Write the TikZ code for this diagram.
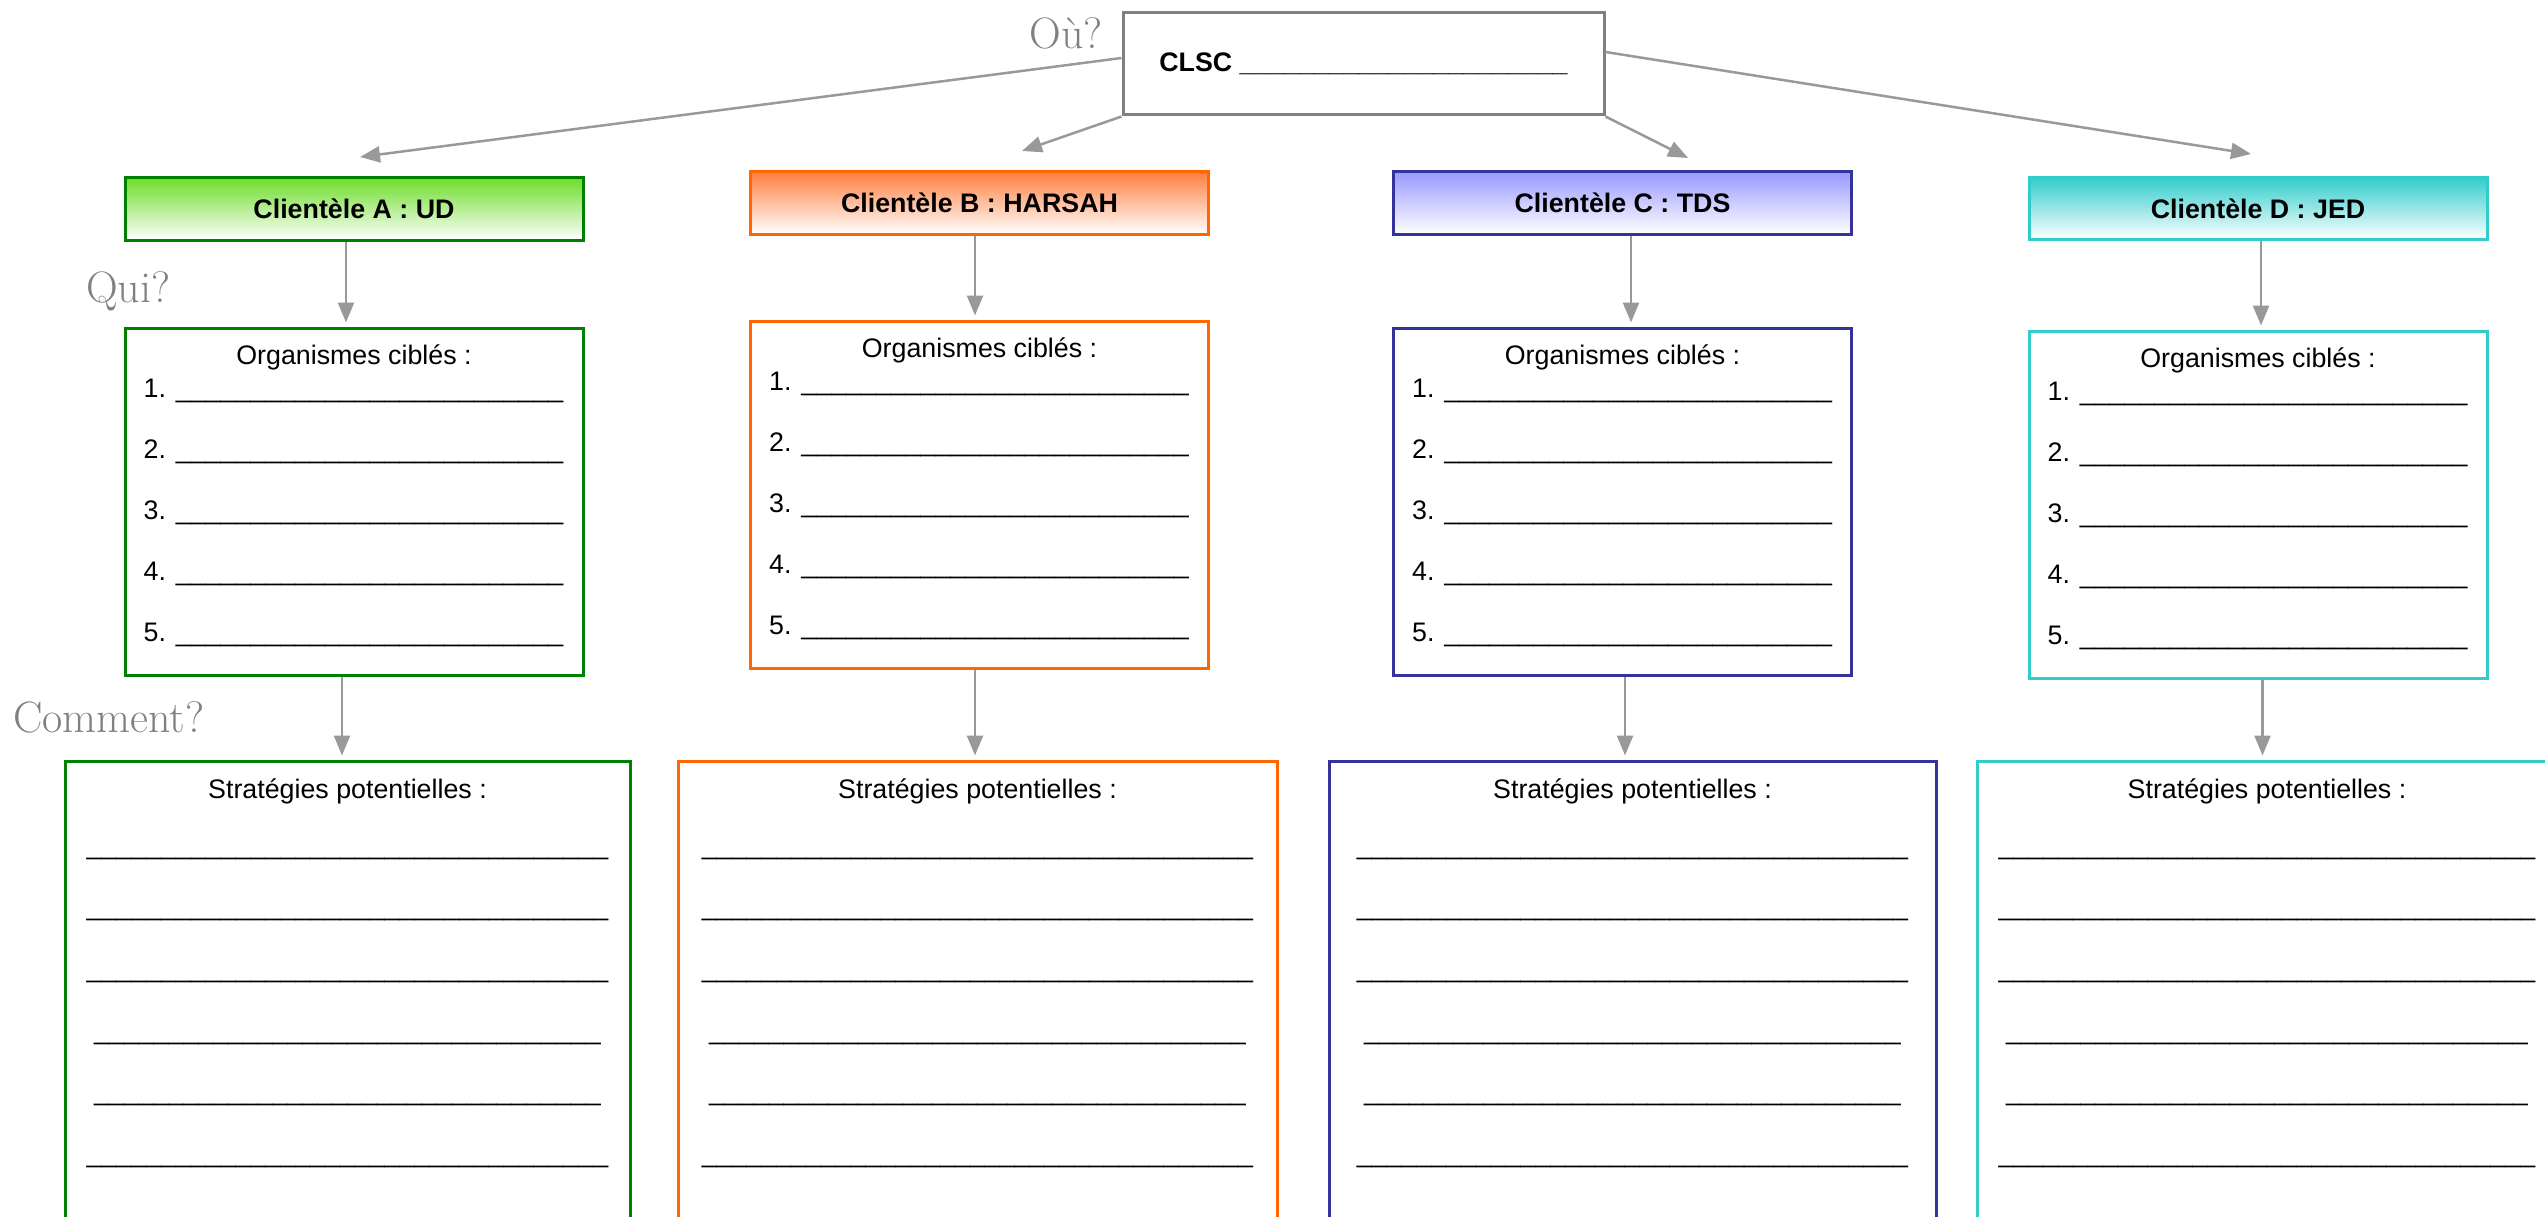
\documentclass[tikz,border=0pt]{standalone}
\usepackage{fontspec}
\newfontfamily\arialf{Liberation Sans}
\usetikzlibrary{arrows.meta}
\def\uten{\_\_\_\_\_\_\_\_\_\_}
\def\ufive{\_\_\_\_\_}
\definecolor{gA}{HTML}{008000}
\definecolor{gAtop}{HTML}{6EDD2A}
\definecolor{oB}{HTML}{FF6600}
\definecolor{oBtop}{HTML}{FF7F3F}
\definecolor{bC}{HTML}{333399}
\definecolor{bCtop}{HTML}{9999FF}
\definecolor{tD}{HTML}{33CCCC}
\definecolor{tDtop}{HTML}{33CCCC}
\definecolor{arrgray}{HTML}{999999}
\definecolor{boxgray}{HTML}{808080}
\definecolor{lblgray}{HTML}{808080}
\tikzset{
  body/.style={font=\arialf\fontsize{26.8}{32}\selectfont, inner sep=0pt},
  bodyb/.style={font=\arialf\bfseries\fontsize{26.8}{32}\selectfont, inner sep=0pt},
  deco/.style={font=\fontsize{44}{52}\selectfont, text=lblgray, inner sep=0pt},
  boxst/.style={draw, line width=3pt, rectangle, inner sep=0pt},
  arr/.style={draw=arrgray, line width=2.5pt, -{Triangle[length=20pt,width=16pt]}},
}
\begin{document}
\begin{tikzpicture}[x=1pt,y=-1pt]
\useasboundingbox (0,0) rectangle (2545,1217);

% top box
\node[boxst, draw=boxgray, fill=white, minimum width=481pt, minimum height=102pt, bodyb] (clsc) at (1363.5,64) {CLSC \uten\uten\_\_};

% headers
\foreach \n/\nm/\cx/\cy/\cc/\ct in {A/UD/354/209/gA/gAtop, B/HARSAH/979.5/203/oB/oBtop, C/TDS/1622.5/203/bC/bCtop, D/JED/2258/208.5/tD/tDtop}
  \node[boxst, bodyb, draw=\cc, top color=\ct, bottom color=white, minimum width=458pt, minimum height=62pt] (h\n) at (\cx,\cy) {Clientèle \n{} : \nm};

% organisms boxes
\foreach \n/\cx/\ty/\cc in {A/354/328/gA, B/979.5/321/oB, C/1622.5/328/bC, D/2258/331/tD} {
  \node[boxst, fill=white, draw=\cc, minimum width=458pt, minimum height=347pt] (org\n) at (\cx,\ty+173.5) {};
  \node[body, anchor=base] (orgt\n) at (\cx,\ty+36.5) {Organismes ciblés :};
  \foreach \k in {1,...,5}
    \node[body, anchor=base west] (org\n\k) at (\cx-210.5,\ty+8.5+61*\k) {\k. \uten\uten\ufive\_};
}

% strategies boxes
\foreach \n/\cx/\w/\cc/\lng/\sht in {A/347.5/565/gA/{\uten\uten\uten\ufive}/{\uten\uten\uten\_\_\_\_},
    B/977.5/599/oB/{\uten\uten\uten\ufive\_\_}/{\uten\uten\uten\ufive\_},
    C/1632.5/607/bC/{\uten\uten\uten\ufive\_\_}/{\uten\uten\uten\ufive\_},
    D/2267/580/tD/{\uten\uten\uten\ufive\_}/{\uten\uten\uten\ufive}} {
  \node[boxst, fill=white, draw=\cc, minimum width=\w pt, minimum height=489pt] (st\n) at (\cx,1005.5) {};
  \node[body, anchor=base] (stt\n) at (\cx,798) {Stratégies potentielles :};
  \foreach \k/\off in {1/93,2/154,3/216,6/401}
    \node[body, anchor=base] (st\n\k) at (\cx,761+\off) {\lng};
  \foreach \k/\off in {4/278,5/339}
    \node[body, anchor=base] (st\n\k) at (\cx,761+\off) {\sht};
}

% vertical arrows
\foreach \n/\a/\b in {A/-8/-12, B/-4.5/-4.5, C/8.5/2.5, D/3/4.5} {
  \draw[arr, shorten >=4pt] ([xshift=\a pt]h\n.south) -- ([xshift=\a pt]org\n.north);
  \draw[arr, shorten >=4pt] ([xshift=\b pt]org\n.south) -- ([xshift=\b pt]org\n.south |- st\n.north);
}

% diagonal arrows from CLSC
\coordinate (eA) at (360,157);
\coordinate (eB) at (1022,151);
\coordinate (eC) at (1688,158);
\coordinate (eD) at (2251,154);
\draw[arr] ([yshift=6pt]clsc.west) -- (eA);
\draw[arr] (clsc.south west) -- (eB);
\draw[arr] (clsc.south east) -- (eC);
\draw[arr] ([yshift=12pt]clsc.east) -- (eD);

% labels
\node[deco, anchor=base east] (ou) at (1103,49) {Où?};
\node[deco, anchor=base west] (qui) at (86,302) {Qui?};
\node[deco, anchor=base west] (comment) at (13,732) {Comment?};
\end{tikzpicture}
\end{document}
